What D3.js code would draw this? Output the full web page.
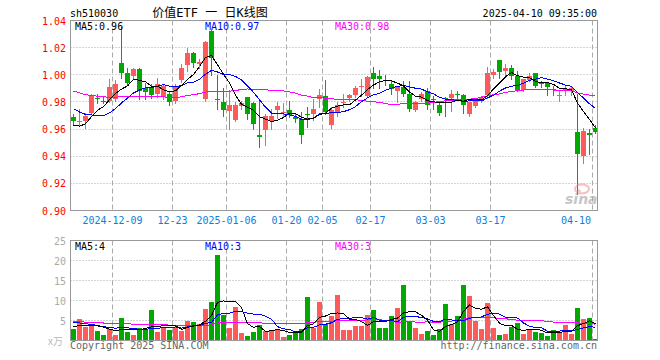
<!DOCTYPE html>
<html>
<head>
  <meta charset="utf-8">
  <title>价值ETF 日K线图</title>
  <script src="https://d3js.org/d3.v7.min.js"></script>
  <style>
    body { margin: 0; background: #fff; }
    text { font-family: 'DejaVu Sans Mono', monospace; font-size: 10px; }
    .grid-h { stroke: #aaa; stroke-dasharray: 1,2; }
    .grid-v { stroke: #aaa; stroke-dasharray: 5,3; }
    .frame { fill: none; stroke: #999; }
    .ma { fill: none; stroke-width: 1; shape-rendering: crispEdges; }
  </style>
</head>
<body>
<script>
  // trading days shown on the chart
  const dates = [
    "2024-11-28","2024-11-29",
    "2024-12-02","2024-12-03","2024-12-04","2024-12-05","2024-12-06",
    "2024-12-09","2024-12-10","2024-12-11","2024-12-12","2024-12-13",
    "2024-12-16","2024-12-17","2024-12-18","2024-12-19","2024-12-20",
    "2024-12-23","2024-12-24","2024-12-25","2024-12-26","2024-12-27",
    "2024-12-30","2024-12-31",
    "2025-01-02","2025-01-03",
    "2025-01-06","2025-01-07","2025-01-08","2025-01-09","2025-01-10",
    "2025-01-13","2025-01-14","2025-01-15","2025-01-16","2025-01-17",
    "2025-01-20","2025-01-21","2025-01-22","2025-01-23","2025-01-24",
    "2025-01-27",
    "2025-02-05","2025-02-06","2025-02-07",
    "2025-02-10","2025-02-11","2025-02-12","2025-02-13","2025-02-14",
    "2025-02-17","2025-02-18","2025-02-19","2025-02-20","2025-02-21",
    "2025-02-24","2025-02-25","2025-02-26","2025-02-27","2025-02-28",
    "2025-03-03","2025-03-04","2025-03-05","2025-03-06","2025-03-07",
    "2025-03-10","2025-03-11","2025-03-12","2025-03-13","2025-03-14",
    "2025-03-17","2025-03-18","2025-03-19","2025-03-20","2025-03-21",
    "2025-03-24","2025-03-25","2025-03-26","2025-03-27","2025-03-28",
    "2025-03-31",
    "2025-04-01","2025-04-02","2025-04-03",
    "2025-04-07","2025-04-08","2025-04-09","2025-04-10"
  ];

  const open = [
    0.969,0.965,0.966,0.972,0.983,0.981,0.981,0.982,1.009,1.001,
    0.999,1.004,0.990,0.991,0.986,0.984,0.986,0.981,0.996,1.007,
    1.016,1.008,0.982,1.0325,0.9825,0.980,0.9735,0.967,0.977,0.9834,
    0.979,0.956,0.959,0.9663,0.974,0.9723,0.9737,0.969,0.9676,0.9709,
    0.9712,0.982,0.9846,0.963,0.972,0.979,0.9826,0.985,0.9915,0.9845,
    1.001,0.9988,0.9962,0.993,0.9877,0.9907,0.986,0.974,0.982,0.9877,
    0.982,0.978,0.9826,0.9826,0.9855,0.985,0.971,0.977,0.9825,0.985,
    1.000,1.0108,1.0025,1.005,0.9993,0.9887,0.996,1.001,0.9938,0.9936,
    0.9897,0.9848,0.9893,0.988,0.958,0.940,0.957,0.9605
  ];
  const high = [
    0.971,0.975,0.972,0.9855,0.986,0.984,0.997,0.996,1.035,1.005,
    1.005,1.005,0.994,0.993,0.9975,0.9935,0.9875,0.993,1.008,1.020,
    1.0165,1.012,1.025,1.033,1.000,0.990,0.989,0.980,0.981,0.984,
    0.980,0.982,0.971,0.975,0.980,0.979,0.981,0.9715,0.9725,0.9766,
    0.9822,0.9895,0.996,0.976,0.980,0.986,0.986,0.992,0.997,0.999,
    1.0055,1.0035,0.9995,0.9965,0.991,0.9955,0.9955,0.981,0.987,0.990,
    0.9845,0.979,0.9838,0.9887,0.988,0.9855,0.980,0.983,0.9843,1.0055,
    1.004,1.011,1.008,1.0075,1.003,0.997,1.001,1.0015,0.9956,0.9938,
    0.992,0.988,0.992,0.992,0.986,0.961,0.960,0.963
  ];
  const low = [
    0.963,0.962,0.961,0.971,0.979,0.979,0.980,0.981,0.998,0.993,
    0.997,0.982,0.982,0.983,0.984,0.982,0.978,0.979,0.995,1.003,
    1.006,1.005,0.981,1.000,0.975,0.970,0.960,0.966,0.975,0.9676,
    0.960,0.947,0.948,0.960,0.968,0.969,0.969,0.9655,0.950,0.9615,
    0.9665,0.976,0.9712,0.961,0.970,0.976,0.981,0.984,0.9845,0.984,
    0.9905,0.9905,0.9925,0.986,0.980,0.9845,0.9735,0.973,0.981,0.9747,
    0.9747,0.9705,0.970,0.973,0.982,0.972,0.970,0.976,0.9803,0.983,
    0.998,0.998,1.000,0.9968,0.9877,0.988,0.9955,0.991,0.9907,0.985,
    0.985,0.981,0.985,0.985,0.912,0.935,0.942,0.957
  ];
  const close = [
    0.966,0.966,0.970,0.985,0.982,0.980,0.991,0.993,1.001,0.994,
    1.004,0.988,0.987,0.985,0.9935,0.9915,0.980,0.991,1.005,1.016,
    1.009,1.0095,1.024,1.0125,0.982,0.974,0.978,0.978,0.979,0.971,
    0.9635,0.954,0.9693,0.9693,0.977,0.9727,0.9707,0.9675,0.9554,0.9705,
    0.9749,0.985,0.9724,0.974,0.978,0.980,0.985,0.990,0.992,0.9985,
    0.9968,0.9966,0.996,0.9894,0.9907,0.9862,0.9747,0.980,0.986,0.978,
    0.9815,0.972,0.982,0.9857,0.985,0.978,0.9796,0.982,0.983,1.001,
    1.0017,1.0017,1.005,0.9993,0.9887,0.9968,0.9993,0.992,0.9933,0.9907,
    0.9893,0.9852,0.9897,0.990,0.9415,0.9585,0.956,0.958
  ];
  // volume, unit 万手
  const volume = [
    2.9,5.4,3.5,4.0,2.4,1.4,2.9,1.4,5.6,2.1,
    1.4,3.1,2.9,7.6,2.1,3.2,2.6,3.3,2.5,5.0,
    4.6,4.1,7.9,9.6,21.5,6.4,3.1,8.3,1.9,1.2,
    2.1,4.0,2.4,2.4,2.8,0.9,1.5,2.4,2.9,10.8,
    3.2,9.6,4.1,6.2,11.3,2.6,2.6,3.6,3.6,6.4,
    7.6,3.1,3.1,6.1,8.1,14.0,4.6,3.1,1.7,2.4,
    1.4,2.9,9.1,4.1,6.1,14.0,11.1,4.9,2.9,9.3,
    3.1,1.4,1.7,3.4,4.4,1.7,2.6,2.1,1.9,1.2,
    2.6,2.1,3.9,1.7,8.1,5.4,5.6,0.4
  ];

  // sessions before the visible window (only feed the moving averages)
  const prevClose = [
    1.005,1.010,1.002,0.998,0.995,1.000,0.992,0.990,0.996,0.999,
    0.993,0.988,0.985,0.990,0.994,0.997,0.992,0.988,0.986,0.990,
    0.990,0.988,0.989,0.986,0.982,0.970,0.962,0.958,0.959
  ];
  const prevVolume = [
    6.2,5.5,4.9,5.8,4.1,4.4,3.9,5.2,4.6,4.0,
    5.3,4.7,4.2,5.0,4.5,4.8,5.1,4.3,4.6,4.9,
    6.5,5.2,6.0,4.8,5.0,4.2,3.6,3.3,3.5
  ];

  // legend values as printed on the chart
  const maPeriods = [5, 10, 30];
  const priceLegend = ["0.96", "0.97", "0.98"];
  const volLegend = ["4", "3", "3"];

  const tickDates  = ["2024-12-09","2024-12-23","2025-01-06","2025-01-20","2025-02-05","2025-02-17","2025-03-03","2025-03-17","2025-04-10"];
  const tickLabels = ["2024-12-09","12-23","2025-01-06","01-20","02-05","02-17","03-03","03-17","04-10"];
  const priceTicks = [0.90, 0.92, 0.94, 0.96, 0.98, 1.00, 1.02, 1.04];
  const volTicks = [5, 10, 15, 20, 25];

  const width = 660, height = 360;
  const left = 70, right = 598;
  const RED = '#ff5a5a', GREEN = '#00a800';
  const maColors = { 5: '#000', 10: '#0000ff', 30: '#ff00ff' };

  const svg = d3.select('body').append('svg')
    .attr('width', width)
    .attr('height', height)
    .style('display', 'block');

  const x = d3.scaleBand().domain(dates).range([left, right]);
  const y = d3.scaleLinear().domain([0.90, 1.04]).range([210.5, 20.5]);
  const yv = d3.scaleLinear().domain([0, 25]).range([340.5, 240.5]);

  const idx = d3.range(dates.length);
  const up = i => close[i] >= open[i];
  const cx = i => x(dates[i]) + 3.5;

  // moving averages over the full history
  function movingAvg(prev, vals, n) {
    const all = prev.concat(vals);
    return vals.map((v, i) => d3.mean(all.slice(i + prev.length - n + 1, i + prev.length + 1)));
  }

  // ---------- grids ----------
  function grid(g, yScale, ticks, top, bottom) {
    g.selectAll('.grid-h').data(ticks).enter().append('line')
      .attr('class', 'grid-h')
      .attr('x1', left + 0.5).attr('x2', right - 0.5)
      .attr('y1', d => Math.round(yScale(d) - 0.5) + 0.5)
      .attr('y2', d => Math.round(yScale(d) - 0.5) + 0.5);
    g.selectAll('.grid-v').data(tickDates).enter().append('line')
      .attr('class', 'grid-v')
      .attr('x1', d => x(d) + 0.5).attr('x2', d => x(d) + 0.5)
      .attr('y1', top).attr('y2', bottom);
  }

  const gPrice = svg.append('g');
  const gVol = svg.append('g');
  grid(gPrice, y, priceTicks.slice(1, -1), 20.5, 210.5);
  grid(gVol, yv, volTicks.slice(0, -1), 240.5, 340.5);

  // ---------- candles ----------
  const candles = gPrice.append('g').attr('shape-rendering', 'crispEdges');
  candles.selectAll('.wick').data(idx).enter().append('line')
    .attr('class', 'wick')
    .attr('x1', cx).attr('x2', cx)
    .attr('y1', i => Math.round(y(high[i])))
    .attr('y2', i => Math.round(y(low[i])) + 1)
    .attr('stroke', i => up(i) ? RED : GREEN);
  candles.selectAll('.body').data(idx).enter().append('rect')
    .attr('class', 'body')
    .attr('x', i => x(dates[i]) + 1)
    .attr('width', 5)
    .attr('y', i => Math.round(y(Math.max(open[i], close[i]))))
    .attr('height', i => Math.max(1, Math.round(y(Math.min(open[i], close[i]))) - Math.round(y(Math.max(open[i], close[i])))))
    .attr('fill', i => up(i) ? RED : GREEN);

  // ---------- volume bars ----------
  gVol.append('g').attr('shape-rendering', 'crispEdges')
    .selectAll('rect').data(idx).enter().append('rect')
    .attr('x', i => x(dates[i]) + 1)
    .attr('width', 5)
    .attr('y', i => Math.round(yv(volume[i])))
    .attr('height', i => Math.round(yv(0)) - Math.round(yv(volume[i])))
    .attr('fill', i => up(i) ? RED : GREEN);

  // ---------- MA lines ----------
  const priceMA = {}, volMA = {};
  maPeriods.forEach(n => {
    priceMA[n] = movingAvg(prevClose, close, n);
    volMA[n] = movingAvg(prevVolume, volume, n);
  });
  maPeriods.slice().reverse().forEach(n => {
    gPrice.append('path').attr('class', 'ma')
      .attr('stroke', maColors[n])
      .attr('d', d3.line().x(i => cx(i)).y(i => y(priceMA[n][i]))(idx));
    gVol.append('path').attr('class', 'ma')
      .attr('stroke', maColors[n])
      .attr('d', d3.line().x(i => cx(i)).y(i => yv(volMA[n][i]))(idx));
  });

  // ---------- frames ----------
  svg.append('rect').attr('class', 'frame')
    .attr('x', left + 0.5).attr('y', 20.5).attr('width', right - left - 1).attr('height', 190);
  svg.append('rect').attr('class', 'frame')
    .attr('x', left + 0.5).attr('y', 240.5).attr('width', right - left - 1).attr('height', 100);

  // ---------- watermark ----------
  const wm = svg.append('g').attr('opacity', 0.55);
  wm.append('ellipse').attr('cx', 582).attr('cy', 189).attr('rx', 7).attr('ry', 4.5)
    .attr('fill', 'none').attr('stroke', '#f08a8a').attr('stroke-width', 2);
  wm.append('circle').attr('cx', 579).attr('cy', 191).attr('r', 1.8).attr('fill', '#f08a8a');
  wm.append('text').attr('x', 565).attr('y', 204)
    .style('font-family', 'DejaVu Sans').style('font-size', '14px')
    .style('font-style', 'italic').style('font-weight', 'bold')
    .attr('fill', '#999').text('sina');

  // ---------- axis labels ----------
  svg.selectAll('.ylab').data(priceTicks).enter().append('text')
    .attr('x', 66).attr('y', d => y(d) + 4)
    .attr('text-anchor', 'end').attr('fill', '#f00')
    .text(d => d.toFixed(2));
  svg.selectAll('.vlab').data(volTicks).enter().append('text')
    .attr('x', 66).attr('y', d => yv(d) + 4)
    .attr('text-anchor', 'end').attr('fill', '#aaa')
    .text(d => d);
  svg.append('text').attr('x', 48).attr('y', 345).attr('fill', '#bbb')
    .style('font-family', "'Noto Sans CJK SC'").style('font-size', '10px')
    .text('x万');

  svg.selectAll('.xlab').data(tickDates).enter().append('text')
    .attr('y', 224).attr('fill', '#0a80e0')
    .each(function (d, i) {
      const w = tickLabels[i].length * 6;
      let px = x(d) + 0.5;
      let anchor = 'middle';
      if (px + w / 2 > right - 4) { px = 591; anchor = 'end'; }
      d3.select(this).attr('x', px).attr('text-anchor', anchor).text(tickLabels[i]);
    });

  // ---------- titles ----------
  svg.append('text').attr('x', 70).attr('y', 17).attr('fill', '#000').text('sh510030');
  svg.append('text').attr('x', 210).attr('y', 17).attr('text-anchor', 'middle')
    .style('font-family', "'DejaVu Sans Mono','Noto Sans CJK SC'").style('font-size', '12px')
    .attr('fill', '#000').text('价值ETF 一 日K线图');
  svg.append('text').attr('x', 597).attr('y', 17).attr('text-anchor', 'end')
    .attr('fill', '#000').text('2025-04-10 09:35:00');

  // legends
  const legendX = [75, 205, 335];
  maPeriods.forEach((n, k) => {
    svg.append('text').attr('x', legendX[k]).attr('y', 30).attr('fill', maColors[n])
      .text('MA' + n + ':' + priceLegend[k]);
    svg.append('text').attr('x', legendX[k]).attr('y', 250).attr('fill', maColors[n])
      .text('MA' + n + ':' + volLegend[k]);
  });

  svg.append('text').attr('x', 70).attr('y', 349).attr('fill', '#666')
    .text('Copyright 2025 SINA.COM');
  svg.append('text').attr('x', 597).attr('y', 349).attr('text-anchor', 'end').attr('fill', '#666')
    .text('http://finance.sina.com.cn');
</script>
</body>
</html>
